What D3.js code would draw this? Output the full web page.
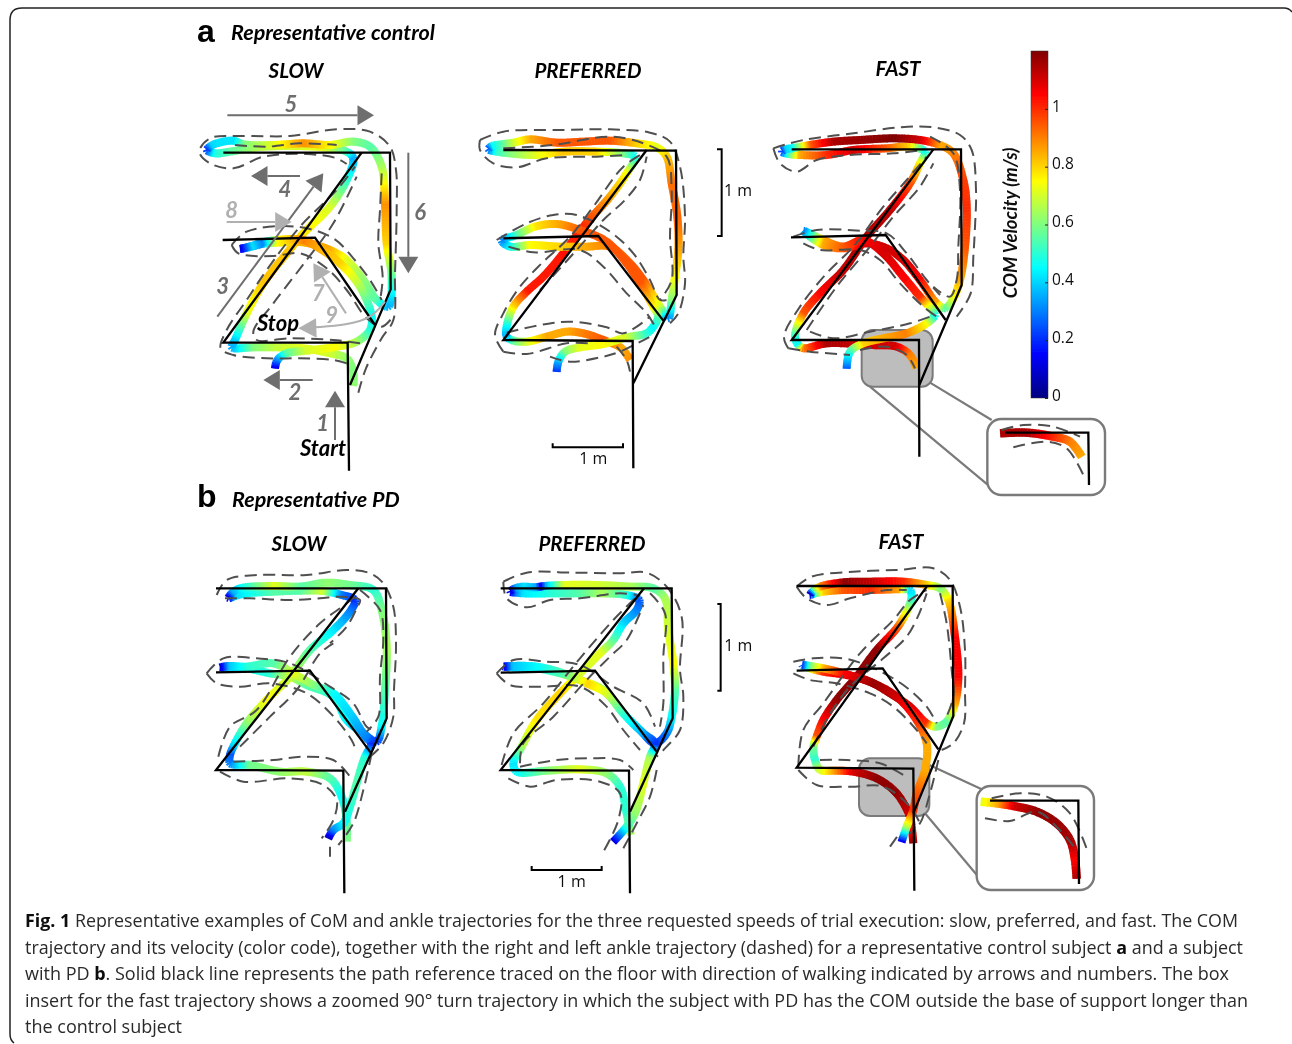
<!DOCTYPE html>
<html><head><meta charset="utf-8">
<script src="https://cdn.jsdelivr.net/npm/d3@7"></script>
<style>html,body{margin:0;padding:0;background:#fff}svg{display:block}</style>
</head><body>
<svg id="fig" width="1292" height="1044"></svg>
<script>
// Colour bar
const speedTicks=[0,0.2,0.4,0.6,0.8,1];
const speedMax=1.2;
const jetStops=[0,1/8,3/8,5/8,7/8,1];
const jetColors=["#00007f","#0000ff","#00ffff","#ffff00","#ff0000","#7f0000"];

// ---- a / SLOW (floor readings: x, y, and COM speed in m/s)
const aSlowPath=[[[477,1382],[473,998],[100,998],[515,428]],[[100,428],[600,428],[602,838],[480,1125]],[[98,690],[375,683],[555,945]]];
const aSlowCom=[[490,1128,.62],[490,1085,.6],[470,1045,.62],[420,1030,.7],[340,1015,.72],[260,1012,.68],[190,1012,.6],[125,1012,.35],[135,990,.4],[170,910,.72],[220,820,.82],[290,730,.82],[340,670,.78],[420,590,.7],[470,510,.5],[490,445,.35],[470,425,.55],[400,412,.72],[300,408,.7],[200,412,.65],[120,425,.55],[75,430,.48],[50,420,.2],[62,408,.4],[80,400,.42],[130,392,.42],[160,403,.6],[250,405,.72],[340,400,.88],[420,405,.75],[490,395,.6],[540,410,.55],[575,470,.65],[585,580,.88],[590,700,.8],[605,800,.55],[595,890,.35],[560,870,.55],[520,810,.62],[470,750,.72],[420,720,.85],[340,697,.85],[260,698,.75],[215,702,.3],[185,710,.42],[150,717,.12],[185,708,.42],[215,698,.3],[260,690,.75],[340,690,.9],[380,710,.85],[450,760,.8],[510,830,.65],[545,920,.45],[540,960,.5],[500,995,.65],[440,1010,.75],[350,1022,.7],[290,1030,.55],[262,1050,.3],[255,1075,.1]];
const aSlowAnkles=[
[[505,1148],[528,1075],[575,985],[610,930],[615,790],[620,600],[618,480],[600,410],[540,365],[440,358],[300,378],[150,378],[60,385],[28,425],[60,460],[130,475],[220,440],[350,432],[440,445],[470,462]],
[[470,1060],[430,1050],[330,1045],[230,1045],[130,1035],[92,1015],[110,960],[170,870],[230,780],[330,650],[440,540],[495,470]],
[[510,1000],[430,990],[300,985],[200,990],[190,965],[250,880],[350,750],[430,640],[500,500]],
[[125,705],[170,665],[320,650],[430,685],[490,745],[540,810],[575,870]],
[[125,705],[145,730],[250,738],[330,730],[410,775],[470,840],[530,925],[575,950],[605,925]],
[[575,490],[570,600],[565,700],[578,800],[572,860]],
[[135,405],[230,410],[330,400],[440,405]]];

// ---- a / PREFERRED
const aPrefPath=[[[490,1255],[488,873],[100,870],[530,300]],[[100,300],[618,302],[620,735],[490,1000]],[[100,565],[385,558],[580,812]]];
const aPrefCom=[[480,930,.88],[455,895,.85],[400,870,.95],[340,850,.9],[290,845,.85],[230,860,.85],[170,875,.7],[130,872,.55],[110,860,.35],[110,830,.45],[130,770,.8],[170,725,1.02],[220,680,1.02],[280,610,1.03],[340,530,1.0],[420,440,.85],[470,370,.75],[495,320,.45],[460,310,.6],[380,305,.8],[280,305,.82],[200,315,.72],[120,310,.6],[80,305,.5],[55,298,.25],[65,288,.45],[80,285,.5],[130,278,.7],[180,268,.85],[260,278,.95],[340,275,.95],[420,272,.95],[500,280,.8],[560,292,.72],[590,320,.82],[605,400,.92],[622,500,.93],[625,600,.85],[615,680,.75],[605,750,.6],[595,805,.3],[570,770,.7],[520,690,.95],[480,640,.95],[420,590,.9],[350,590,.85],[270,590,.8],[180,585,.75],[120,590,.45],[95,572,.3],[140,555,.55],[195,530,.78],[260,522,.85],[330,540,.95],[410,575,.95],[470,640,.95],[510,700,.95],[550,770,.75],[565,800,.55],[550,830,.45],[530,850,.5],[470,862,.7],[400,882,.75],[330,892,.72],[285,905,.6],[265,935,.35],[260,965,.2]];
const aPrefAnkles=[
[[100,905],[75,855],[100,790],[150,710],[215,640],[300,560],[370,470],[460,350],[520,310]],
[[210,720],[320,600],[400,510],[465,450],[510,390],[530,320]],
[[30,270],[100,245],[280,240],[420,238],[540,248],[600,275],[630,350],[645,500],[640,620],[645,700],[625,790],[600,820]],
[[30,270],[30,300],[70,340],[140,352],[230,325],[380,320],[470,315]],
[[100,295],[250,285],[420,260],[520,280],[590,320],[605,420],[600,560],[605,690],[570,750]],
[[80,570],[170,520],[250,495],[320,495],[420,545],[490,610],[540,690],[570,750],[590,750]],
[[115,590],[190,607],[330,600],[400,650],[470,730],[530,790],[555,830]],
[[110,848],[210,825],[300,815],[410,832],[460,850],[540,800]],
[[100,905],[170,912],[290,880],[360,880]],
[[240,920],[300,935],[400,920],[450,905],[540,860]],
[[440,890],[470,930],[480,965]]];

// ---- a / FAST
const aFastPath=[[[478,1250],[477,900],[95,900],[520,328]],[[95,328],[603,328],[605,735],[478,1035]],[[93,592],[377,585],[557,840]]];
const aFastCom=[[470,985,.85],[450,945,.9],[410,920,1.1],[330,915,1.1],[200,910,1.15],[130,925,.9],[115,915,.45],[105,890,.5],[130,820,.95],[180,760,1.05],[250,690,1.12],[320,590,1.15],[390,510,1.12],[450,430,.95],[480,370,.75],[495,335,.45],[450,320,.8],[380,325,.95],[280,330,1.1],[200,345,1.0],[120,345,.85],[85,342,.5],[65,335,.2],[75,328,.4],[95,325,.45],[150,315,.95],[220,305,1.15],[300,300,1.17],[400,295,1.2],[480,300,1.1],[540,315,.85],[580,340,.9],[610,420,.98],[620,500,1.0],[615,620,.95],[600,720,.85],[580,775,.72],[555,805,.55],[530,790,.85],[480,720,1.05],[430,660,1.1],[380,625,1.1],[320,610,1.1],[250,625,.95],[190,615,.85],[130,572,.3],[190,600,.85],[250,620,.95],[310,600,1.05],[370,640,1.1],[430,710,1.05],[480,770,1.0],[520,815,.55],[525,825,.45],[500,850,.75],[440,880,.9],[370,895,.85],[310,910,.8],[270,935,.5],[260,985,.25]];
const aFastAnkles=[
[[85,925],[72,890],[120,800],[200,700],[280,620],[370,500],[440,420],[500,350]],
[[140,870],[230,740],[330,620],[400,530],[480,440],[520,370]],
[[40,325],[130,300],[280,280],[420,262],[520,262],[600,285],[635,330],[648,450],[645,560],[640,650],[632,760],[590,830]],
[[40,325],[60,370],[110,395],[170,360],[270,345],[400,340],[490,330]],
[[510,290],[580,340],[600,450],[595,620],[590,720],[570,770],[520,740]],
[[100,590],[170,570],[300,572],[380,580],[440,640],[500,720],[540,765]],
[[130,610],[180,630],[300,630],[360,660],[420,730],[490,800],[530,830]],
[[85,925],[150,935],[270,945]],
[[150,875],[220,895],[330,875],[450,850],[510,830]],
[[300,930],[380,920],[440,945],[465,985]]];
const aFastInsetPath=[[[735,1178],[985,1178],[987,1335]]];
const aFastInsetCom=[[720,1180,1.15],[800,1178,1.15],[880,1190,1.0],[930,1205,.9],[965,1250,.85]];
const aFastInsetAnkles=[[[725,1170],[790,1155],[880,1160],[960,1190]],[[760,1222],[860,1205],[920,1225],[970,1305]]];

// ---- b / SLOW
const bSlowPath=[[[463,1090],[460,722],[78,720],[505,175]],[[78,175],[588,175],[590,565],[465,845]],[[78,427],[360,422],[542,668]]];
const bSlowCom=[[470,935,.6],[470,870,.55],[455,800,.45],[420,745,.55],[350,725,.68],[270,725,.62],[180,705,.58],[120,700,.3],[120,675,.25],[130,650,.4],[170,580,.62],[230,510,.75],[300,440,.68],[360,360,.55],[430,300,.42],[480,245,.3],[495,210,.2],[455,195,.3],[400,183,.7],[330,182,.55],[250,185,.55],[170,190,.45],[135,198,.4],[115,205,.1],[125,190,.35],[150,175,.45],[250,168,.72],[330,170,.55],[410,158,.62],[480,165,.58],[550,180,.5],[575,240,.6],[590,350,.65],[585,480,.55],[575,590,.45],[560,635,.2],[520,610,.35],[470,570,.45],[430,500,.5],[350,465,.55],[300,440,.7],[240,430,.5],[170,415,.45],[115,413,.38],[90,412,.1],[115,408,.38],[170,410,.5],[250,400,.55],[310,430,.72],[370,465,.6],[430,490,.45],[480,550,.4],[530,625,.3],[545,640,.2],[525,680,.5],[500,760,.55],[480,830,.5],[460,880,.45],[430,900,.3],[415,925,.05]];
const bSlowAnkles=[
[[80,195],[110,150],[200,135],[350,135],[470,120],[540,130],[580,160],[610,230],[618,340],[612,480],[610,560],[580,640],[540,680]],
[[105,205],[180,205],[300,210],[390,205],[450,200],[510,210],[500,235],[470,290],[420,340]],
[[85,680],[120,590],[200,540],[300,380],[390,280],[470,220],[505,190]],
[[150,650],[240,560],[320,480],[390,370],[430,340]],
[[510,180],[570,240],[580,320],[570,440],[565,560],[530,605]],
[[50,430],[100,385],[200,385],[300,400],[420,470],[490,520],[530,590],[550,600]],
[[50,430],[80,460],[150,470],[240,460],[350,490],[440,570],[490,640],[495,660]],
[[130,695],[250,690],[340,680],[430,690],[480,740]],
[[90,725],[160,755],[300,745],[400,765],[440,810],[430,870],[395,925]],
[[545,670],[520,780],[490,880],[445,945]],
[[420,950],[420,980]]];

// ---- b / PREFERRED
const bPrefPath=[[[450,1090],[447,722],[62,720],[492,175]],[[62,175],[575,175],[578,565],[450,845]],[[62,428],[345,422],[530,665]]];
const bPrefCom=[[452,915,.65],[440,850,.5],[420,770,.5],[380,730,.62],[300,718,.72],[200,722,.6],[110,725,.45],[100,700,.42],[125,650,.65],[170,570,.78],[240,490,.8],[300,430,.7],[360,370,.72],[400,330,.55],[430,280,.4],[470,240,.3],[478,210,.25],[440,195,.5],[370,190,.65],[300,190,.55],[220,190,.5],[130,190,.42],[110,188,.3],[90,185,.08],[105,175,.35],[130,170,.42],[165,172,.35],[180,170,.12],[195,168,.35],[250,165,.72],[350,165,.7],[450,170,.65],[520,175,.55],[555,205,.65],[565,300,.7],[580,400,.75],[585,480,.55],[575,560,.45],[560,610,.3],[525,640,.2],[480,600,.4],[430,550,.48],[370,480,.62],[300,450,.85],[240,430,.55],[170,415,.45],[95,412,.38],[70,410,.12],[95,408,.38],[170,410,.45],[250,430,.55],[320,460,.8],[380,490,.7],[430,550,.5],[490,610,.35],[525,640,.2],[510,680,.65],[490,760,.72],[465,850,.62],[440,890,.5],[400,935,.1]];
const bPrefAnkles=[
[[70,155],[140,128],[280,128],[420,130],[500,128],[560,170],[605,260],[600,420],[610,500],[600,600],[560,650],[530,680]],
[[70,155],[80,205],[140,232],[210,210],[300,205],[420,190],[470,195]],
[[65,705],[100,610],[190,520],[300,385],[400,270],[470,200]],
[[120,700],[130,640],[220,560],[320,450],[390,380],[440,330],[490,225]],
[[510,190],[555,250],[550,380],[550,520],[540,590]],
[[50,430],[100,390],[200,395],[300,405],[400,470],[490,520],[525,590]],
[[50,430],[90,465],[180,470],[300,470],[380,530],[430,600],[480,660]],
[[120,710],[230,690],[330,685],[420,690],[460,720]],
[[85,745],[150,770],[230,750],[360,755],[420,790],[415,870],[370,965]],
[[530,720],[510,800],[470,880],[430,955]]];

// ---- b / FAST
const bFastPath=[[[433,1082],[430,716],[80,713],[470,170]],[[80,168],[548,168],[550,558],[430,850]],[[80,422],[338,415],[505,658]]];
const bFastCom=[[430,940,1.17],[425,890,1.0],[420,860,1.1],[380,790,1.18],[320,745,1.18],[250,725,1.1],[190,722,.85],[150,720,.7],[135,690,.5],[130,650,.6],[140,620,.95],[160,570,1.05],[200,510,1.18],[260,440,1.18],[320,360,1.18],[380,295,.95],[410,245,.7],[425,200,.45],[420,180,.4],[390,178,.85],[300,180,1.0],[220,180,.95],[160,185,.8],[135,190,.5],[120,195,.05],[130,182,.6],[150,170,.9],[220,157,1.18],[300,155,1.12],[400,155,1.0],[470,165,.8],[510,175,.6],[535,210,.8],[555,320,1.05],[565,440,1.05],[555,520,.85],[530,575,.55],[500,590,.6],[470,580,1.0],[420,530,1.1],[360,490,1.15],[300,455,1.15],[230,435,1.1],[160,425,1.0],[120,415,.7],[95,405,.2],[120,408,.6],[160,415,.85],[220,430,1.05],[310,460,1.17],[380,500,1.1],[440,570,1.0],[470,640,.85],[465,720,.85],[440,790,.95],[430,840,1.0],[410,890,.65],[395,935,.1]];
const bFastAnkles=[
[[80,170],[125,140],[250,125],[380,120],[490,115],[540,150],[570,230],[585,360],[585,480],[582,580],[550,640],[515,660]],
[[80,170],[110,205],[170,225],[240,205],[350,180],[410,180]],
[[85,710],[100,600],[160,520],[270,370],[370,270],[420,210],[470,180]],
[[130,650],[175,560],[240,470],[340,385],[410,320],[450,245],[470,190]],
[[510,190],[530,280],[545,420],[550,500],[525,570]],
[[70,395],[130,385],[220,385],[300,410],[400,465],[470,530],[500,580]],
[[70,430],[120,450],[200,460],[300,490],[370,530],[440,600],[470,640]],
[[150,690],[230,690],[330,700],[400,735]],
[[85,720],[140,765],[240,770],[340,770],[420,830],[450,880]],
[[505,690],[480,790],[450,880],[420,910]],
[[360,950],[385,915]]];
const bFastInsetPath=[[[660,812],[925,812],[927,1062]]];
const bFastInsetCom=[[632,815,.72],[680,820,.85],[730,828,1.1],[800,845,1.18],[860,880,1.17],[900,930,1.15],[915,990,1.05],[920,1045,1.15]];
const bFastInsetAnkles=[[[645,865],[720,873],[800,845],[860,890],[920,960]],[[665,805],[750,790],[830,800],[900,850],[955,970]]];

// Text
const captionLines=[
 [["Fig. 1",1],[" Representative examples of CoM and ankle trajectories for the three requested speeds of trial execution: slow, preferred, and fast. The COM",0]],
 [["trajectory and its velocity (color code), together with the right and left ankle trajectory (dashed) for a representative control subject ",0],["a",1],[" and a subject",0]],
 [["with PD ",0],["b",1],[". Solid black line represents the path reference traced on the floor with direction of walking indicated by arrows and numbers. The box",0]],
 [["insert for the fast trajectory shows a zoomed 90° turn trajectory in which the subject with PD has the COM outside the base of support longer than",0]],
 [["the control subject",0]]];
const captionWidths=[1213,1218,1204,1223,157];
const captionBaselines=[927,954,980,1007,1033];

const svg=d3.select("#fig");
const defs=svg.append("defs");
defs.append("filter").attr("id","soft").attr("filterUnits","userSpaceOnUse").attr("x",0).attr("y",0).attr("width",1292).attr("height",1044)
 .append("feGaussianBlur").attr("stdDeviation",0.45);
const root=svg.append("g").attr("filter","url(#soft)");
const FONT="Lato, 'Open Sans', sans-serif";

const jet=d3.scaleLinear().domain(jetStops.map(s=>s*speedMax)).range(jetColors).clamp(true);

function cropScales(x0,y0,w,h){
 return {x:d3.scaleLinear().domain([0,w*3]).range([x0,x0+w]),
         y:d3.scaleLinear().domain([0,h*3]).range([y0,y0+h])};
}
function drawCom(g,s,pts,width){
 const line=d3.line().x(d=>s.x(d[0])).y(d=>s.y(d[1])).curve(d3.curveCatmullRom.alpha(0.5));
 const tmp=g.append("path").attr("fill","none").attr("d",line(pts));
 const node=tmp.node();
 const lens=pts.map((p,i)=>{ if(i===0) return 0; tmp.attr("d",line(pts.slice(0,i+1))); return node.getTotalLength(); });
 tmp.attr("d",line(pts));
 const total=node.getTotalLength();
 for(let i=1;i<lens.length;i++) if(lens[i]<=lens[i-1]) lens[i]=lens[i-1]+0.01;
 const speed=d3.scaleLinear().domain(lens).range(pts.map(p=>p[2])).clamp(true);
 const step=1.5, samples=d3.range(0,total,step).concat([total]);
 const segs=d3.pairs(samples.map(l=>{const p=node.getPointAtLength(l);return {x:p.x,y:p.y,v:speed(l)};}));
 tmp.remove();
 g.append("g").selectAll("line").data(segs).join("line")
  .attr("x1",d=>d[0].x).attr("y1",d=>d[0].y)
  .attr("x2",d=>d[1].x+(d[1].x-d[0].x)*0.4).attr("y2",d=>d[1].y+(d[1].y-d[0].y)*0.4)
  .attr("stroke",d=>jet(d[0].v)).attr("stroke-width",width);
}
function drawAnkles(g,s,curves){
 const line=d3.line().x(d=>s.x(d[0])).y(d=>s.y(d[1])).curve(d3.curveCatmullRom.alpha(0.5));
 g.append("g").selectAll("path").data(curves).join("path").attr("d",line)
  .attr("fill","none").attr("stroke","#505050").attr("stroke-width",2).attr("stroke-dasharray","12 6.5");
}
function drawRef(g,s,polys,w=2.3){
 const line=d3.line().x(d=>s.x(d[0])).y(d=>s.y(d[1]));
 g.append("g").selectAll("path").data(polys).join("path").attr("d",line)
  .attr("fill","none").attr("stroke","#000").attr("stroke-width",w).attr("stroke-linejoin","miter");
}
const panels=[
 {c:[190,10,280,470],path:aSlowPath,com:aSlowCom,ank:aSlowAnkles},
 {c:[470,50,300,430],path:aPrefPath,com:aPrefCom,ank:aPrefAnkles},
 {c:[760,40,360,460],path:aFastPath,com:aFastCom,ank:aFastAnkles,
  box:[305,870,518,1040],boxLines:[[330,1040,690,1340],[510,1028,695,1140]],inset:[682,1137,1035,1365],
  ip:aFastInsetPath,ic:aFastInsetCom,ia:aFastInsetAnkles},
 {c:[190,530,300,370],path:bSlowPath,com:bSlowCom,ank:bSlowAnkles},
 {c:[480,530,290,370],path:bPrefPath,com:bPrefCom,ank:bPrefAnkles},
 {c:[770,530,340,370],path:bFastPath,com:bFastCom,ank:bFastAnkles,
  box:[267,685,478,858],boxLines:[[478,705,640,780],[465,850,625,1040]],inset:[620,768,972,1080],
  ip:bFastInsetPath,ic:bFastInsetCom,ia:bFastInsetAnkles}
];
panels.forEach(p=>{
 const s=cropScales(...p.c);
 const g=root.append("g");
 if(p.box){
  const [a,b,c,d]=p.box;
  g.append("rect").attr("x",s.x(a)).attr("y",s.y(b)).attr("width",s.x(c)-s.x(a)).attr("height",s.y(d)-s.y(b))
   .attr("rx",11).attr("fill","#bdbdbd").attr("stroke","#7a7a7a").attr("stroke-width",2);
  g.append("g").selectAll("line").data(p.boxLines).join("line")
   .attr("x1",d=>s.x(d[0])).attr("y1",d=>s.y(d[1])).attr("x2",d=>s.x(d[2])).attr("y2",d=>s.y(d[3]))
   .attr("stroke","#7a7a7a").attr("stroke-width",2.2);
  const [e,f,h,i]=p.inset;
  g.append("rect").attr("x",s.x(e)).attr("y",s.y(f)).attr("width",s.x(h)-s.x(e)).attr("height",s.y(i)-s.y(f))
   .attr("rx",14).attr("fill","#fff").attr("stroke","#7a7a7a").attr("stroke-width",2.4);
  drawCom(g,s,p.ic,8.5);
  drawAnkles(g,s,p.ia);
  drawRef(g,s,p.ip);
 }
 drawCom(g,s,p.com,8);
 drawAnkles(g,s,p.ank);
 drawRef(g,s,p.path);
});

// Walking direction arrows on a / SLOW
const sA=cropScales(190,10,280,470);
const walkArrows=[
 [112,316,552,316,"#6e6e6e"],[330,498,183,498,"#6e6e6e"],[82,920,400,490,"#6e6e6e"],[655,428,655,790,"#6e6e6e"],
 [110,636,305,636,"#b0b0b0"],[468,910,370,760,"#b0b0b0"],[368,1110,220,1110,"#6e6e6e"],[435,1290,435,1142,"#6e6e6e"]];
const arrowLabels=[["5",303,305,"#6e6e6e"],["4",285,560,"#6e6e6e"],["3",98,852,"#6e6e6e"],["6",690,630,"#6e6e6e"],
 ["8",125,625,"#b0b0b0"],["7",385,872,"#b0b0b0"],["9",425,940,"#b0b0b0"],["2",315,1170,"#6e6e6e"],["1",398,1262,"#6e6e6e"]];
const arrG=root.append("g");
walkArrows.forEach(([x1,y1,x2,y2,col])=>{
 const ax=sA.x(x1),ay=sA.y(y1),bx=sA.x(x2),by=sA.y(y2),L=Math.hypot(bx-ax,by-ay),ux=(bx-ax)/L,uy=(by-ay)/L;
 const hl=16.5,hw=10;
 const cx=bx-ux*hl,cy=by-uy*hl;
 arrG.append("line").attr("x1",ax).attr("y1",ay).attr("x2",cx).attr("y2",cy).attr("stroke",col).attr("stroke-width",2);
 arrG.append("path").attr("d",d3.line()([[bx,by],[cx-uy*hw,cy+ux*hw],[cx+uy*hw,cy-ux*hw]])+"Z").attr("fill",col);
});
const curve9=[[585,875],[545,925],[470,945],[375,952]];
arrG.append("path").attr("d",d3.line().x(d=>sA.x(d[0])).y(d=>sA.y(d[1])).curve(d3.curveBasis)(curve9))
 .attr("fill","none").attr("stroke","#b0b0b0").attr("stroke-width",2);
arrG.append("path").attr("d",d3.line().x(d=>sA.x(d[0])).y(d=>sA.y(d[1]))([[325,955],[378,925],[380,983]])+"Z").attr("fill","#b0b0b0");
arrG.selectAll("text").data(arrowLabels).join("text")
 .attr("x",d=>sA.x(d[1])).attr("y",d=>sA.y(d[2])).text(d=>d[0]).attr("fill",d=>d[3])
 .attr("text-anchor","middle").attr("font-family",FONT).attr("font-weight",700).attr("font-style","italic").attr("font-size",22);

// Scale bars
const sAp=cropScales(470,50,300,430), sBp=cropScales(480,530,290,370);
const scaleBars=[
 [sAp,[[248,1180],[248,1192],[459,1192],[459,1180]],"1 m",370,1243],
 [sAp,[[741,298],[755,298],[755,558],[741,558]],"1 m",804,438],
 [sBp,[[155,1008],[155,1020],[365,1020],[365,1008]],"1 m",275,1070],
 [sBp,[[712,222],[722,222],[722,482],[712,482]],"1 m",775,364]];
scaleBars.forEach(([s,pts,t,tx,ty])=>{
 root.append("path").attr("d",d3.line().x(d=>s.x(d[0])).y(d=>s.y(d[1]))(pts)).attr("fill","none").attr("stroke","#000").attr("stroke-width",2);
 root.append("text").attr("x",s.x(tx)).attr("y",s.y(ty)).attr("text-anchor","middle").text(t)
  .attr("font-family","'Open Sans',sans-serif").attr("font-size",16).attr("fill","#111");
});

// Colour bar
const barY=d3.scaleLinear().domain([0,speedMax]).range([398,51]);
const barX=1031,barW=17;
const grad=defs.append("linearGradient").attr("id","jet").attr("x1",0).attr("x2",0).attr("y1",1).attr("y2",0);
jetStops.forEach((t,i)=>grad.append("stop").attr("offset",t).attr("stop-color",jetColors[i]));
root.append("rect").attr("x",barX).attr("y",barY(speedMax)).attr("width",barW).attr("height",barY(0)-barY(speedMax)).attr("fill","url(#jet)").attr("stroke","#333").attr("stroke-width",0.5);
const barAxis=d3.axisRight(barY).tickValues(speedTicks).tickFormat(d3.format("~g")).tickSize(0).tickPadding(4);
const ax=root.append("g").attr("transform",`translate(${barX+barW},0)`).call(barAxis);
ax.select(".domain").remove();
ax.selectAll("text").attr("font-family","'Open Sans',sans-serif").attr("font-size",15.5).attr("fill","#111").attr("dy","0.15em");
ax.selectAll(".tick").append("line").attr("x1",-3).attr("x2",0).attr("stroke","#222");
root.append("text").attr("transform","translate(1017,223) rotate(-90)").attr("text-anchor","middle")
 .text("COM Velocity (m/s)").attr("font-family",FONT).attr("font-weight",700).attr("font-style","italic").attr("font-size",18.6).attr("fill","#111");

// Headings
const headings=[
 ["Representative control",231,40,"start",21.5],["SLOW",296,78,"middle",20.5],["PREFERRED",588,78,"middle",20.5],["FAST",898,76,"middle",20.5],
 ["Representative PD",232,507,"start",21.5],["SLOW",299,551,"middle",20.5],["PREFERRED",592,551,"middle",20.5],["FAST",901,549,"middle",20.5],
 ["Stop",278,331,"middle",22],["Start",323,456,"middle",22]];
root.append("g").selectAll("text").data(headings).join("text")
 .attr("x",d=>d[1]).attr("y",d=>d[2]).attr("text-anchor",d=>d[3]).attr("font-size",d=>d[4]).text(d=>d[0])
 .attr("font-family",FONT).attr("font-weight",700).attr("font-style","italic").attr("fill","#000");
const letters=[["a",197,42],["b",197,507]];
root.append("g").selectAll("text").data(letters).join("text").attr("x",d=>d[1]).attr("y",d=>d[2]).text(d=>d[0])
 .attr("font-family","'Liberation Sans',sans-serif").attr("font-weight",700).attr("font-size",32).attr("fill","#000");

// Caption: each run of a line is its own text, stretched to the line's measured width
const capG=root.append("g").attr("font-family","'Open Sans',sans-serif").attr("font-size",18);
const spaceW=4.68;
captionLines.forEach((runs,i)=>{
 let gaps=0;
 const items=runs.map(([s,b],j)=>{
  const lead=j>0&&s.startsWith(" ")||(j>0&&runs[j-1][0].endsWith(" "));
  if(lead) gaps++;
  const t=capG.append("text").attr("y",captionBaselines[i]).attr("font-weight",b?700:400).attr("fill",b?"#111":"#2a2a2a").text(s.trim());
  return {t,w:t.node().getComputedTextLength(),lead};
 });
 const k=captionWidths[i]/(d3.sum(items,d=>d.w)+gaps*spaceW);
 let x=25;
 items.forEach(it=>{
  if(it.lead) x+=spaceW*k;
  it.t.attr("x",x).attr("textLength",it.w*k).attr("lengthAdjust","spacingAndGlyphs");
  x+=it.w*k;
 });
});

// Frame
root.append("path").attr("d","M14,1043 Q10,1040 10,1034 V20 Q10,8 22,8 H1284 Q1289,8 1292,12")
 .attr("fill","none").attr("stroke","#222").attr("stroke-width",1.5);
</script>
</body></html>
